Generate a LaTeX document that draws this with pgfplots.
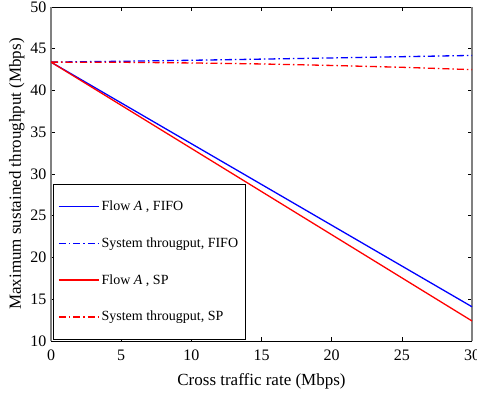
\documentclass[border=0pt]{standalone}
\usepackage{fontspec}
\setmainfont{Liberation Serif}
\usepackage{pgfplots}
\pgfplotsset{compat=1.18}
\definecolor{mblue}{RGB}{0,0,255}
\definecolor{mred}{RGB}{255,0,0}
\begin{document}
\begin{tikzpicture}
\begin{axis}[
  name=ax,
  scale only axis, width=421pt, height=334pt,
  xmin=0, xmax=30, ymin=10, ymax=50,
  xtick={0,5,...,30}, ytick={10,15,...,50},
  axis lines=box, separate axis lines,
  x axis line style={black, line width=0.7pt},
  y axis line style={black!50, line width=1.2pt},
  tick align=inside, tick pos=both,
  major tick length=4pt,
  tick style={black, line width=0.6pt},
  /pgf/number format/assume math mode=true,
  ticklabel style={font=\fontsize{16}{16}\selectfont},
  xticklabel style={yshift=-5pt},
  yticklabel style={xshift=-1pt},
  label style={font=\fontsize{17}{17}\selectfont},
  xlabel={Cross traffic rate (Mbps)},
  ylabel={Maximum sustained throughput (Mbps)},
  xlabel style={yshift=-6pt},
  ylabel style={yshift=-1pt},
  legend cell align=left,
  legend style={at={(axis description cs:0.005,0.004)}, anchor=south west,
    font=\fontsize{14}{14}\selectfont,
    inner xsep=5pt, inner ysep=15pt, row sep=21.5pt},
  legend image code/.code={\draw[mark repeat=2,mark phase=2,#1] plot coordinates {(0pt,0pt) (20pt,0pt) (40pt,0pt)};},
]
\addplot[color=mblue, line width=1.3pt] coordinates {(0,43.4) (30,14.1)};
\addlegendentry{Flow \textit{A} , FIFO}
\addplot[color=mblue, line width=1.3pt, dash pattern=on 7pt off 3pt on 1.5pt off 3pt] coordinates {
(0,43.4) (5,43.5) (10,43.62) (15,43.76) (20,43.9) (25,44.05) (30,44.2)};
\addlegendentry{System througput, FIFO}
\addplot[color=mred, line width=1.3pt] coordinates {(0,43.4) (30,12.4)};
\addlegendentry{Flow \textit{A} , SP}
\addplot[color=mred, line width=1.3pt, dash pattern=on 7pt off 3pt on 1.5pt off 3pt] coordinates {
(0,43.4) (5,43.38) (10,43.3) (15,43.18) (20,43.0) (25,42.78) (30,42.5)};
\addlegendentry{System througput, SP}
\end{axis}
\pgfresetboundingbox
\path ([shift={(-51pt,-58pt)}]ax.south west) rectangle ([shift={(5pt,7pt)}]ax.north east);
\end{tikzpicture}
\end{document}
